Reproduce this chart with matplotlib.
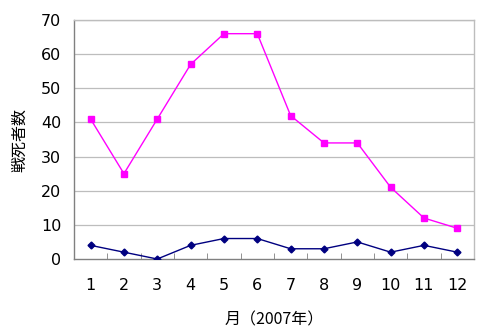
import matplotlib
matplotlib.use("Agg")
import matplotlib.pyplot as plt

plt.rcParams['font.family'] = ['Noto Sans CJK JP', 'DejaVu Sans']

months = [1, 2, 3, 4, 5, 6, 7, 8, 9, 10, 11, 12]
series_a = [41, 25, 41, 57, 66, 66, 42, 34, 34, 21, 12, 9]
series_b = [4, 2, 0, 4, 6, 6, 3, 3, 5, 2, 4, 2]

fig = plt.figure(figsize=(4.8, 3.31), dpi=100)
ax = fig.add_axes([0.154, 0.2175, 0.8335, 0.722])

# gridlines behind data
for y in range(10, 80, 10):
    ax.axhline(y, color="#bdbdbd", lw=0.9, zorder=0)

ax.plot(months, series_a, color="#ff00ff", lw=1.0, marker="s", ms=4.5, zorder=3)
ax.plot(months, series_b, color="#000080", lw=1.0, marker="D", ms=3.5, zorder=3)

ax.set_xlim(0.5, 12.5)
ax.set_ylim(0, 70)
ax.set_yticks(range(0, 80, 10))
ax.set_xticks(months)
ax.set_xticks([m + 0.5 for m in months[:-1]], minor=True)
ax.tick_params(axis="x", which="major", length=0, pad=14)
ax.tick_params(axis="x", which="minor", length=4, direction="in", color="#808080")
ax.tick_params(axis="y", length=0, pad=9)
for lbl in ax.get_xticklabels() + ax.get_yticklabels():
    lbl.set_fontfamily("DejaVu Sans")
    lbl.set_fontsize(11.5)

for side in ["top", "right"]:
    ax.spines[side].set_color("#bdbdbd")
for side in ["left", "bottom"]:
    ax.spines[side].set_color("#808080")
for s in ax.spines.values():
    s.set_linewidth(1.0)

ax.set_ylabel("戦死者数", fontsize=11.5, labelpad=9)
ax.set_xlabel("月（2007年）", fontsize=11.5, labelpad=13)

fig.savefig("out.png", dpi=100)
